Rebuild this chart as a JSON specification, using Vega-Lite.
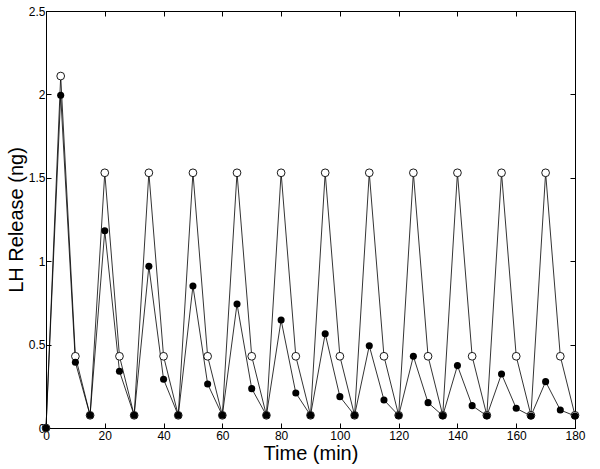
{
  "$schema": "https://vega.github.io/schema/vega-lite/v6.json",
  "autosize": "none",
  "padding": {"left": 46, "top": 11, "right": 25, "bottom": 41},
  "width": 529,
  "height": 417,
  "background": "white",
  "config": {
    "view": {"stroke": "black", "strokeWidth": 1},
    "font": "Liberation Sans",
    "axis": {
      "domainColor": "black",
      "tickColor": "black",
      "labelColor": "black",
      "titleColor": "black",
      "grid": false,
      "labelFont": "Liberation Sans",
      "titleFont": "Liberation Sans",
      "labelFontSize": 12,
      "titleFontSize": 20,
      "titleFontWeight": "normal",
      "tickSize": -5
    }
  },
  "data": {
    "values": [
      {"t": 0, "v": 0, "s": "open"},
      {"t": 5, "v": 2.11, "s": "open"},
      {"t": 10, "v": 0.43, "s": "open"},
      {"t": 15, "v": 0.076, "s": "open"},
      {"t": 20, "v": 1.53, "s": "open"},
      {"t": 25, "v": 0.43, "s": "open"},
      {"t": 30, "v": 0.076, "s": "open"},
      {"t": 35, "v": 1.53, "s": "open"},
      {"t": 40, "v": 0.43, "s": "open"},
      {"t": 45, "v": 0.076, "s": "open"},
      {"t": 50, "v": 1.53, "s": "open"},
      {"t": 55, "v": 0.43, "s": "open"},
      {"t": 60, "v": 0.076, "s": "open"},
      {"t": 65, "v": 1.53, "s": "open"},
      {"t": 70, "v": 0.43, "s": "open"},
      {"t": 75, "v": 0.076, "s": "open"},
      {"t": 80, "v": 1.53, "s": "open"},
      {"t": 85, "v": 0.43, "s": "open"},
      {"t": 90, "v": 0.076, "s": "open"},
      {"t": 95, "v": 1.53, "s": "open"},
      {"t": 100, "v": 0.43, "s": "open"},
      {"t": 105, "v": 0.076, "s": "open"},
      {"t": 110, "v": 1.53, "s": "open"},
      {"t": 115, "v": 0.43, "s": "open"},
      {"t": 120, "v": 0.076, "s": "open"},
      {"t": 125, "v": 1.53, "s": "open"},
      {"t": 130, "v": 0.43, "s": "open"},
      {"t": 135, "v": 0.076, "s": "open"},
      {"t": 140, "v": 1.53, "s": "open"},
      {"t": 145, "v": 0.43, "s": "open"},
      {"t": 150, "v": 0.076, "s": "open"},
      {"t": 155, "v": 1.53, "s": "open"},
      {"t": 160, "v": 0.43, "s": "open"},
      {"t": 165, "v": 0.076, "s": "open"},
      {"t": 170, "v": 1.53, "s": "open"},
      {"t": 175, "v": 0.43, "s": "open"},
      {"t": 180, "v": 0.076, "s": "open"},
      {"t": 0, "v": 0, "s": "filled"},
      {"t": 5, "v": 1.995, "s": "filled"},
      {"t": 10, "v": 0.394, "s": "filled"},
      {"t": 15, "v": 0.076, "s": "filled"},
      {"t": 20, "v": 1.183, "s": "filled"},
      {"t": 25, "v": 0.34, "s": "filled"},
      {"t": 30, "v": 0.076, "s": "filled"},
      {"t": 35, "v": 0.969, "s": "filled"},
      {"t": 40, "v": 0.292, "s": "filled"},
      {"t": 45, "v": 0.076, "s": "filled"},
      {"t": 50, "v": 0.851, "s": "filled"},
      {"t": 55, "v": 0.264, "s": "filled"},
      {"t": 60, "v": 0.076, "s": "filled"},
      {"t": 65, "v": 0.743, "s": "filled"},
      {"t": 70, "v": 0.236, "s": "filled"},
      {"t": 75, "v": 0.076, "s": "filled"},
      {"t": 80, "v": 0.647, "s": "filled"},
      {"t": 85, "v": 0.21, "s": "filled"},
      {"t": 90, "v": 0.076, "s": "filled"},
      {"t": 95, "v": 0.565, "s": "filled"},
      {"t": 100, "v": 0.188, "s": "filled"},
      {"t": 105, "v": 0.076, "s": "filled"},
      {"t": 110, "v": 0.493, "s": "filled"},
      {"t": 115, "v": 0.168, "s": "filled"},
      {"t": 120, "v": 0.075, "s": "filled"},
      {"t": 125, "v": 0.43, "s": "filled"},
      {"t": 130, "v": 0.152, "s": "filled"},
      {"t": 135, "v": 0.074, "s": "filled"},
      {"t": 140, "v": 0.374, "s": "filled"},
      {"t": 145, "v": 0.134, "s": "filled"},
      {"t": 150, "v": 0.073, "s": "filled"},
      {"t": 155, "v": 0.324, "s": "filled"},
      {"t": 160, "v": 0.118, "s": "filled"},
      {"t": 165, "v": 0.072, "s": "filled"},
      {"t": 170, "v": 0.278, "s": "filled"},
      {"t": 175, "v": 0.108, "s": "filled"},
      {"t": 180, "v": 0.072, "s": "filled"}
    ]
  },
  "resolve": {"axis": {"x": "independent", "y": "independent"}},
  "layer": [
    {
      "mark": {"type": "line", "color": "black", "strokeWidth": 0.8, "clip": false},
      "encoding": {
        "x": {"field": "t", "type": "quantitative",
              "scale": {"domain": [0, 180], "nice": false, "zero": false},
              "axis": {"values": [0, 20, 40, 60, 80, 100, 120, 140, 160, 180], "format": "d", "title": "Time (min)", "labelPadding": 7, "titlePadding": 2, "labelFlush": false}},
        "y": {"field": "v", "type": "quantitative",
              "scale": {"domain": [0, 2.5], "nice": false},
              "axis": {"values": [0, 0.5, 1, 1.5, 2, 2.5], "format": "~g", "title": "LH Release (ng)", "labelPadding": 6, "titlePadding": 2, "labelFlush": false, "labelOverlap": false}},
        "detail": {"field": "s"}
      }
    },
    {
      "transform": [{"filter": "datum.s == 'open'"}],
      "mark": {"type": "point", "shape": "circle", "filled": false, "fill": "white", "fillOpacity": 1, "stroke": "black", "strokeWidth": 0.9, "size": 60, "opacity": 1, "clip": false},
      "encoding": {
        "x": {"field": "t", "type": "quantitative",
              "axis": {"orient": "top", "values": [0, 20, 40, 60, 80, 100, 120, 140, 160, 180], "labels": false, "title": null, "domain": false}},
        "y": {"field": "v", "type": "quantitative",
              "axis": {"orient": "right", "values": [0, 0.5, 1, 1.5, 2, 2.5], "labels": false, "title": null, "domain": false}}
      }
    },
    {
      "transform": [{"filter": "datum.s == 'filled'"}],
      "mark": {"type": "circle", "color": "black", "size": 50, "opacity": 1, "clip": false},
      "encoding": {
        "x": {"field": "t", "type": "quantitative", "axis": null},
        "y": {"field": "v", "type": "quantitative", "axis": null}
      }
    }
  ]
}
